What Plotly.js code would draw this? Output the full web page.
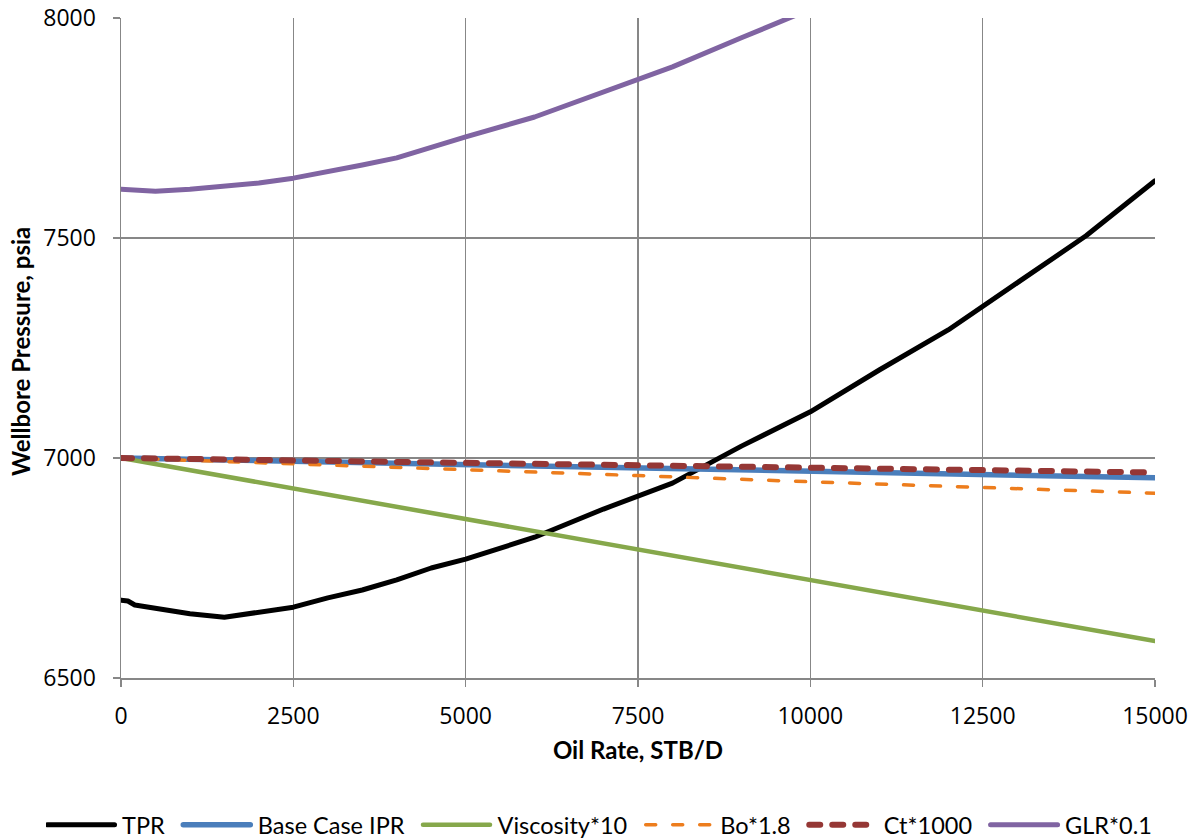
<!DOCTYPE html>
<html><head><meta charset="utf-8">
<script src="https://cdn.plot.ly/plotly-3.0.1.min.js"></script>
<style>
body{margin:0;background:#fff}#chart{width:1195px;height:840px}
.scatterlayer .js-line, .legendlines path { stroke-linecap: round; stroke-linejoin: round; }
</style>
</head><body><div id="chart"></div>
<script>
const tprRate = [0, 100, 200, 1000, 1500, 2000, 2500, 3000, 3500, 4000, 4500, 5000, 6000, 7000, 8000, 9000, 10000, 11000, 12000, 13000, 14000, 15000];
const tprP    = [6677, 6675, 6666, 6646, 6638, 6649, 6661, 6682, 6700, 6723, 6750, 6770, 6820, 6884, 6943, 7027, 7105, 7200, 7291, 7398, 7505, 7630];

const iprRate = [0, 2500, 5000, 7500, 10000, 12500, 15000];
const baseIpr = [7000, 6992, 6984, 6976, 6969, 6962, 6955];
const viscIpr = [7000, 6931, 6861, 6792, 6723, 6653, 6584];
const boIpr   = [7000, 6987, 6973, 6960, 6946, 6933, 6920];
const ctIpr   = [7000, 6994, 6989, 6983, 6978, 6972, 6967];

const glrRate = [0, 500, 1000, 1500, 2000, 2500, 3000, 3500, 4000, 4500, 5000, 6000, 7000, 8000, 9000, 10000, 11000];
const glrP    = [7611, 7606, 7611, 7618, 7625, 7636, 7650, 7666, 7682, 7707, 7730, 7775, 7832, 7889, 7955, 8020, 8090];

const seriesNames = ['TPR', 'Base Case IPR', 'Viscosity*10', 'Bo*1.8', 'Ct*1000', 'GLR*0.1'];
const xTicks = [0, 2500, 5000, 7500, 10000, 12500, 15000];
const yTicks = [6500, 7000, 7500, 8000];

const labelFont = "Lato, 'Open Sans', sans-serif";
const tickFont = "'Open Sans', 'DejaVu Sans', sans-serif";
const pad = '\u00a0\u00a0';
const legendName = (i) => i < seriesNames.length - 1 ? seriesNames[i] + pad : seriesNames[i];

const traces = [
  {x: tprRate, y: tprP, name: legendName(0), mode: 'lines', line: {color: '#000000', width: 5}},
  {x: iprRate, y: baseIpr, name: legendName(1), mode: 'lines', line: {color: '#4a7ebb', width: 5.5}},
  {x: iprRate, y: viscIpr, name: legendName(2), mode: 'lines', line: {color: '#86a84b', width: 4.5}},
  {x: iprRate, y: boIpr, name: legendName(3), mode: 'lines', line: {color: '#ed7d1d', width: 3.5, dash: '10px,17px'}},
  {x: iprRate, y: ctIpr, name: legendName(4), mode: 'lines', line: {color: '#953735', width: 6, dash: '11px,12px'}},
  {x: glrRate, y: glrP, name: legendName(5), mode: 'lines', line: {color: '#8064a2', width: 5}}
];

const layout = {
  width: 1195, height: 840,
  margin: {l: 121, r: 40, t: 18, b: 162, autoexpand: false},
  paper_bgcolor: '#ffffff', plot_bgcolor: '#ffffff',
  showlegend: true,
  legend: {orientation: 'h', xref: 'paper', x: -0.0725, xanchor: 'left',
           yref: 'paper', y: -0.2227, yanchor: 'middle', borderwidth: 0,
           font: {family: labelFont, size: 23.5, color: '#000'}, itemwidth: 66, tracegroupgap: 0},
  xaxis: {
    range: [0, 15000], tickvals: xTicks, ticktext: xTicks.map(String),
    showgrid: true, gridcolor: '#878787', gridwidth: 1.5,
    showline: true, linecolor: '#878787', linewidth: 1.5,
    ticks: 'outside', ticklen: 7, tickcolor: '#878787', tickwidth: 1.5,
    ticklabelstandoff: 10,
    tickfont: {family: tickFont, size: 23, color: '#000'},
    zeroline: false,
    title: {text: '<b>Oil Rate, STB/D</b>', font: {family: labelFont, size: 24, color: '#000'}, standoff: 12}
  },
  yaxis: {
    range: [6500, 8000], tickvals: yTicks, ticktext: yTicks.map(String),
    showgrid: true, gridcolor: '#878787', gridwidth: 1.5,
    showline: true, linecolor: '#878787', linewidth: 1.5,
    ticks: 'outside', ticklen: 7, tickcolor: '#878787', tickwidth: 1.5,
    ticklabelstandoff: 12,
    tickfont: {family: tickFont, size: 23, color: '#000'},
    zeroline: false
  },
  annotations: [{
    text: '<b>Wellbore Pressure, psia</b>', textangle: -90, showarrow: false,
    xref: 'paper', yref: 'paper', x: -0.0967, y: 0.494, xanchor: 'center', yanchor: 'middle',
    font: {family: labelFont, size: 24, color: '#000'}
  }]
};

Plotly.newPlot('chart', traces, layout, {displayModeBar: false, staticPlot: true}).then(function () {
  document.querySelectorAll('.legendlines path').forEach(function (p) {
    p.setAttribute('d', 'M1.5,0h67');
  });
});
</script>
</body></html>
